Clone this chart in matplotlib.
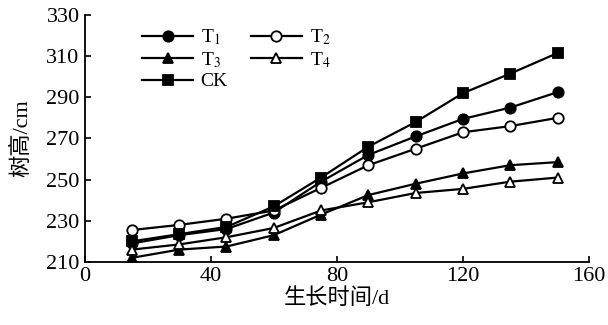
import matplotlib
matplotlib.use('Agg')
import matplotlib.pyplot as plt

plt.rcParams['font.family'] = ['Liberation Serif', 'Noto Sans CJK SC']
plt.rcParams['mathtext.fontset'] = 'stix'

days = [15, 30, 45, 60, 75, 90, 105, 120, 135, 150]
t1 = [219, 223, 226, 234, 249, 262, 271, 279.5, 285, 292.5]
t2 = [225.5, 228, 231, 235, 246, 257, 265, 273, 276, 280]
t3 = [212, 216, 217.5, 223, 233, 242.5, 248, 253, 257, 258.5]
t4 = [216, 218.5, 222, 226.5, 235, 239, 243.5, 245.5, 249, 251]
ck = [220, 223.5, 227, 237, 251, 266, 278, 292, 301.5, 311.5]

fig = plt.figure(figsize=(6.08, 3.25), dpi=100)
ax = fig.add_axes([0.139, 0.194, 0.83, 0.76])

kw = dict(color='black', lw=1.6, ms=7.5, mew=1.3)
h1, = ax.plot(days, t1, marker='o', mfc='black', label='T$_1$', **kw)
h2, = ax.plot(days, t2, marker='o', mfc='white', label='T$_2$', **kw)
h3, = ax.plot(days, t3, marker='^', mfc='black', label='T$_3$', **kw)
h4, = ax.plot(days, t4, marker='^', mfc='white', label='T$_4$', **kw)
h5, = ax.plot(days, ck, marker='s', mfc='black', label='CK', **kw)

ax.set_xlim(0, 160)
ax.set_ylim(210, 330)
ax.set_xticks([0, 40, 80, 120, 160])
ax.set_yticks(range(210, 331, 20))
ax.spines['top'].set_visible(False)
ax.spines['right'].set_visible(False)
ax.tick_params(direction='in', labelsize=16, length=4, width=1.2)
for s in ax.spines.values():
    s.set_linewidth(1.3)

ax.set_xlabel('生长时间/d', fontsize=16, labelpad=2)
ax.set_ylabel('树高/cm', fontsize=16, labelpad=10)

# row-wise order like the original: T1 T2 / T3 T4 / CK
ax.legend([h1, h3, h5, h2, h4], ['T$_1$', 'T$_3$', 'CK', 'T$_2$', 'T$_4$'],
          ncol=2, loc='upper left', bbox_to_anchor=(0.08, 1.02), frameon=False,
          fontsize=14, handlelength=2.6, columnspacing=1.2, labelspacing=0.15,
          handletextpad=0.4)

fig.savefig('out.png', dpi=100)
